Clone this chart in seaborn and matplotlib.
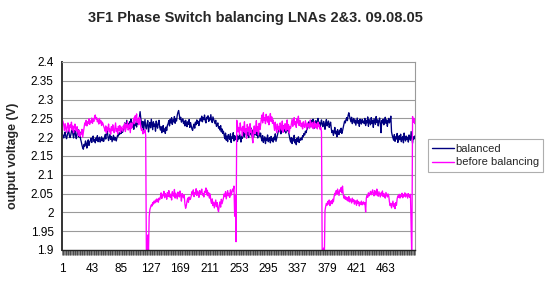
import numpy as np
import pandas as pd
import matplotlib
matplotlib.use("Agg")
import matplotlib.pyplot as plt
import seaborn as sns
from matplotlib.ticker import MultipleLocator

# output voltage per sample, in mV above 2 V
balanced_mv = [
    210, 203, 198, 207, 214, 201, 196, 205, 212, 220, 204, 199,
    206, 215, 224, 209, 198, 212, 218, 203, 196, 210, 221, 207,
    200, 214, 195,
    188, 179, 172, 168, 181, 176, 190, 184, 171, 186, 193, 178, 187,
    191, 197, 186, 199, 203, 189, 194, 185, 198, 192, 204, 188, 195, 200, 187, 193, 201, 190, 196, 189,
    198, 207, 195, 212, 220, 203, 191, 199, 208, 194, 202, 188, 197, 205, 192, 200, 196, 190,
    199, 206, 203, 211, 208, 215, 210, 218, 213, 221,
    226, 238, 219, 233, 245, 228, 236, 222, 241, 230, 248, 225, 234, 239, 221, 243, 231, 237, 227, 246, 235, 241, 252,
    268,
    250, 238, 226, 242, 219, 233, 247, 228, 222, 236, 244, 214, 230, 239, 225, 248, 233, 220, 241, 229, 235, 216, 243, 231, 224, 238, 245, 227,
    219, 228, 212, 225, 231, 215, 222, 210, 227, 218, 232,
    236, 244, 230, 248, 238, 252, 234, 246, 241, 255, 237, 249, 243, 258, 266, 271, 259, 247, 253, 240, 245,
    249, 236, 243, 230, 245, 238, 228, 241, 234, 247, 226, 239, 231, 222, 218, 229, 235, 224, 240, 233, 246, 237, 242, 231, 244,
    250, 243, 256, 241, 252, 247, 259, 244, 238, 253, 249, 257, 242, 251, 246, 260, 245, 239, 254, 248,
    242, 236, 245, 229, 233, 238, 224, 228, 219, 231, 214, 222, 210, 216,
    205, 196, 211, 192, 203, 188, 207, 199, 194, 209, 186, 201, 197, 212, 190, 204, 198, 193, 206, 189, 202, 195, 208, 200, 187, 203, 197,
    206, 215, 201, 218, 209, 222, 204, 212, 199, 216, 208, 225, 203, 211, 219, 200, 214, 207, 221, 205, 213, 198, 217, 209, 202, 211,
    198, 190, 204, 186, 195, 201, 183, 197, 192, 206, 188, 194, 199, 185, 202, 191, 196, 187, 200, 193, 209, 189, 197, 204,
    212, 221, 215, 228, 209, 224, 218, 231, 214, 226, 220, 211, 229, 217, 223, 213,
    202, 194, 187, 199, 183, 196, 190, 205, 185, 193, 180, 197, 189, 201, 186, 195, 192,
    198, 193, 204, 201, 210, 206, 216, 212, 220, 223,
    230, 241, 226, 237, 245, 229, 234, 248, 223, 239, 232, 244, 227, 236, 250, 231, 240, 225, 238, 246, 233, 228, 242, 235, 221, 239, 247, 230, 236, 243, 226, 234, 240,
    222, 212, 218, 205, 214, 226, 209, 216, 201, 220, 211, 207, 219, 213, 224, 210, 217,
    226, 235, 243, 238, 247, 252, 244, 258, 265, 256, 249, 241, 253, 236, 245, 250, 238, 246, 232, 242, 251, 237, 244, 229, 248, 240, 235, 247, 239,
    243, 236, 250, 231, 244, 238, 254, 229, 247, 240, 233, 252, 237, 245, 226, 249, 241, 234, 255, 239, 246, 230, 243, 251, 236, 212, 244, 238, 248, 233, 241, 253, 237, 246, 229, 242, 250, 238, 245, 256,
    214, 205, 198, 192, 207, 189, 201, 195, 210, 186, 199, 204, 193, 208, 188, 197, 202, 185, 211, 196, 190, 203, 194, 200, 187, 206, 198, 192, 215, 199, 184, 201, 195, 203,
]

before_mv = [
    246, 241,
    232, 218, 236, 224, 213, 229, 238, 221, 215, 233, 226, 240, 219, 230, 212, 227, 235, 222, 216, 228,
    214, 205, 219, 202, 211, 208, 221, 200, 213,
    226, 238, 232, 245, 230, 241, 236, 249, 234, 243, 239, 251, 237, 247, 242, 255, 259, 248, 252, 241, 246, 235, 250, 238, 244, 231, 240, 236, 229,
    224, 216, 230, 211, 226, 219, 235, 214, 222, 208, 228, 217, 233, 220, 212, 225, 238, 215, 223, 209, 229, 218, 231, 213, 227, 221, 216,
    230, 222, 237, 215, 233, 226, 241, 219, 229, 235, 212, 238, 224, 232,
    240, 251, 236, 257, 244, 262, 239, 248, 233, 253, 245,
    226, 218, 223, 209, 216, 212, 220,
    205, -120, -95, -60, -105,
    -10, 8, 14, 20, 17, 26, 22, 30, 25, 33, 28, 36, 31, 27, 38, 34,
    41, 52, 37, 48, 44, 56, 39, 50, 46, 35, 53, 42, 58, 45, 40, 49, 33, 55, 47, 43, 61, 38, 51, 44, 36, 54, 48, 41, 57, 46, 30, 50, 43, 39, 47,
    22, 11, 18, 30, 38, 27, 41, 34, 36,
    44, 55, 47, 60, 42, 52, 49, 63, 45, 57, 51, 40, 58, 48, 54, 62, 46, 50, 41, 56, 53, 65, 47, 59, 44, 52, 38, 49,
    31, 24, 36, 18, 27, 12, 22, 33, 15, 26, 8, 2, 19, 28, 14, 35, 23, 30,
    38, 49, 42, 55, 36, 47, 58, 44, 51, 40, 60, 46, 53, 62, 57, 70,
    -10, 45, -78, 245,
    232, 214, 226, 208, 238, 219, 224, 203, 229, 216, 241, 211, 222, 197, 234, 218, 227, 205, 236, 213, 221, 199, 185, 217, 230, 209, 225, 244, 215, 228, 206, 237, 220, 231,
    248, 259, 238, 265, 244, 252, 236, 261, 247, 240, 256, 233, 250, 263, 242, 254, 237, 246,
    231, 218, 240, 224, 212, 235, 221, 229, 215, 238, 226, 219, 243, 213, 230, 222, 236, 217, 227, 246, 220, 233, 211, 228, 224,
    236, 248, 229, 244, 252, 233, 241, 226, 249, 238, 256, 231, 245, 240,
    228, 237, 222, 241, 230, 226, 244, 233, 221, 238, 229, 235, 224, 246, 231, 227, 239, 223, 234, 242, 225, 236, 230, 222, 240, 228, 233, 221, 226,
    215, -110, -125, -95, -130, 5,
    16, 24, 19, 29, 22, 33, 18, 27, 31, 23, 35, 28,
    42, 51, 46, 58, 49, 62, 53, 45, 60, 56, 66, 52, 70,
    48, 38, 44, 35, 41, 33, 39, 30, 42, 28, 36, 32, 25, 38, 29, 34, 22, 31, 27, 19, 33, 24, 29, 17, 26, 22, 30, 20, 25,
    28, 21, 26, 1,
    38, 45, 40, 52, 44, 49, 56, 47, 53, 60, 48, 44, 58, 51, 46, 62, 50, 43, 55, 48, 41, 52, 46, 57, 42, 50, 45, 38, 53, 47, 41, 49, 44,
    28, 18, 24, 12, 21, 30, 15, 23, 10, 26, 19,
    36, 44, 40, 48, 38, 46, 42, 51, 39, 47, 43, 52, 41, 45, 49, 38, 50,
    44, 40, 48, -40, -130, 255, 240, 250, 236,
]

series_names = ["balanced", "before balancing"]
series_colors = ["#000080", "#FF00FF"]
x_tick_values = [1, 43, 85, 127, 169, 211, 253, 295, 337, 379, 421, 463]
y_tick_values = [1.9, 1.95, 2.0, 2.05, 2.1, 2.15, 2.2, 2.25, 2.3, 2.35, 2.4]
y_tick_labels = ["1.9", "1.95", "2", "2.05", "2.1", "2.15", "2.2", "2.25", "2.3", "2.35", "2.4"]

# long-form table for seaborn
frames = []
for name, mv in zip(series_names, [balanced_mv, before_mv]):
    frames.append(pd.DataFrame({
        "sample": np.arange(1, len(mv) + 1),
        "voltage": 2 + np.array(mv) / 1000.0,
        "series": name,
    }))
df = pd.concat(frames, ignore_index=True)
n_samples = max(len(balanced_mv), len(before_mv))

sns.set_style("white")
plt.rcParams["font.family"] = ["Liberation Sans", "DejaVu Sans"]

fig = plt.figure(figsize=(5.45, 2.83), dpi=100)
ax = fig.add_axes([62 / 545, 1 - 250 / 283, 353 / 545, 188 / 283])

# Excel-like gridlines
for v in y_tick_values[1:-1]:
    ax.axhline(v, color="#9a9a9a", lw=0.8, zorder=0)

sns.lineplot(
    data=df, x="sample", y="voltage", hue="series",
    palette=dict(zip(series_names, series_colors)),
    estimator=None, sort=False, linewidth=0.95, ax=ax,
)

ax.set_xlim(0.5, n_samples + 0.5)
ax.set_ylim(1.9, 2.4)
ax.set_xticks(x_tick_values)
ax.set_xticklabels([str(t) for t in x_tick_values])
ax.xaxis.set_minor_locator(MultipleLocator(1, offset=0.5))
ax.set_yticks(y_tick_values)
ax.set_yticklabels(y_tick_labels)
ax.tick_params(axis="x", which="major", length=0, pad=9, labelsize=8.5, colors="black")
ax.tick_params(axis="x", which="minor", length=3.5, width=0.4, color="#222222", direction="out", bottom=True)
ax.tick_params(axis="y", which="major", length=0, pad=6, labelsize=8.5, colors="black")

ax.set_xlabel("")
ax.set_ylabel("output voltage (V)", fontsize=9, fontweight="bold")
ax.yaxis.set_label_coords(-0.122, 0.5)

for side in ["top", "right"]:
    ax.spines[side].set_color("#9a9a9a")
    ax.spines[side].set_linewidth(0.8)
ax.spines["left"].set_color("#333333")
ax.spines["left"].set_linewidth(1.4)
ax.spines["bottom"].set_color("#222222")
ax.spines["bottom"].set_linewidth(1.0)

handles, labels = ax.get_legend_handles_labels()
leg = ax.legend(
    handles, labels, loc="center left",
    bbox_to_anchor=(428 / 545, 1 - 155.5 / 283), bbox_transform=fig.transFigure,
    fontsize=8, frameon=True, fancybox=False, edgecolor="#9a9a9a",
    handlelength=1.9, handletextpad=0.2, borderpad=0.4, borderaxespad=0,
    labelspacing=0.35,
)
leg.get_frame().set_linewidth(0.8)
for line in leg.get_lines():
    line.set_linewidth(1.0)

fig.text(255 / 545, 1 - 18 / 283, "3F1 Phase Switch balancing LNAs 2&3. 09.08.05",
         ha="center", va="center", fontsize=10.5, fontweight="bold")

fig.savefig("out.png", dpi=100)
